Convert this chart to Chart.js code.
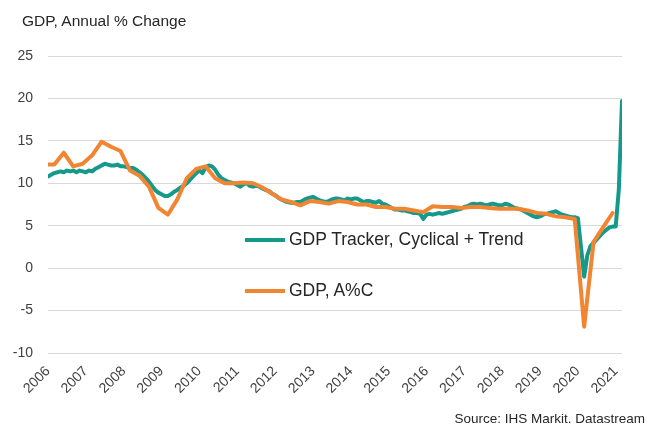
<!DOCTYPE html>
<html>
<head>
<meta charset="utf-8">
<script src="https://cdn.jsdelivr.net/npm/chart.js@4"></script>
<style>
  body { margin: 0; background: #fff; font-family: "Liberation Sans", Arial, sans-serif; }
  #wrap { position: relative; width: 660px; height: 425px; }
  #title { position: absolute; left: 22px; top: 12px; font-size: 15.5px; color: #262626; }
  #source { position: absolute; right: 15px; top: 411px; font-size: 13.5px; color: #262626; }
  .leg { position: absolute; left: 245px; font-size: 17.5px; color: #262626; display: flex; align-items: center; }
  .leg span.line { display: inline-block; width: 40px; height: 4px; margin-right: 4px; }
</style>
</head>
<body>
<div id="wrap">
  <canvas id="myChart"></canvas>
  <div id="title">GDP, Annual % Change</div>
  <div class="leg" style="top:229px"><span class="line" style="background:#14998b"></span>GDP Tracker, Cyclical + Trend</div>
  <div class="leg" style="top:280px"><span class="line" style="background:#f28532"></span>GDP, A%C</div>
  <div id="source">Source: IHS Markit. Datastream</div>
</div>
<script>
// Eje y
const yTicks = [-10, -5, 0, 5, 10, 15, 20, 25];
const firstYear = 2006;

// GDP Tracker, mensual desde ene-2006 hasta mar-2021
const trackerValues = [
  10.8, 11.0, 11.2, 11.3, 11.4, 11.3, 11.5, 11.4, 11.5, 11.3, 11.5, 11.4, // 2006
  11.3, 11.5, 11.4, 11.7, 11.9, 12.1, 12.3, 12.2, 12.1, 12.1, 12.2, 12.0, // 2007
  12.0, 11.9, 11.8, 11.8, 11.6, 11.3, 11.0, 10.6, 10.2, 9.7, 9.2, 8.9,    // 2008
  8.7, 8.5, 8.5, 8.7, 9.0, 9.2, 9.5, 9.7, 10.0, 10.4, 10.8, 11.2,         // 2009
  11.5, 11.2, 11.9, 12.1, 12.0, 11.6, 11.0, 10.6, 10.4, 10.2, 10.1, 10.0, // 2010
  9.8, 9.6, 9.9, 10.0, 9.7, 9.6, 9.7, 9.6, 9.4, 9.2, 9.1, 8.8,           // 2011
  8.6, 8.3, 8.1, 7.9, 7.8, 7.7, 7.7, 7.8, 7.8, 8.0, 8.2, 8.3,            // 2012
  8.4, 8.2, 8.0, 7.9, 7.8, 7.9, 8.1, 8.2, 8.2, 8.1, 8.0, 8.2,            // 2013
  8.1, 8.2, 8.2, 8.0, 7.8, 7.9, 7.9, 7.8, 7.7, 7.9, 7.6, 7.5,            // 2014
  7.3, 7.1, 6.9, 6.9, 6.8, 6.8, 6.7, 6.6, 6.5, 6.5, 6.4, 5.8,            // 2015
  6.3, 6.4, 6.3, 6.4, 6.5, 6.4, 6.5, 6.6, 6.7, 6.8, 6.9, 7.0,            // 2016
  7.2, 7.3, 7.5, 7.6, 7.5, 7.6, 7.5, 7.4, 7.5, 7.6, 7.5, 7.4,            // 2017
  7.4, 7.6, 7.5, 7.3, 7.1, 7.0, 6.9, 6.7, 6.5, 6.3, 6.1, 6.0,            // 2018
  6.1, 6.3, 6.4, 6.5, 6.6, 6.7, 6.5, 6.3, 6.2, 6.1, 6.0, 6.0,            // 2019
  5.9, 2.5, -1.0, 1.5, 2.6, 3.0, 3.4, 3.8, 4.2, 4.5, 4.8, 4.9,           // 2020
  4.9, 9.3, 19.7                                                          // 2021
];

// GDP A%C, trimestral (fin de trimestre)
const gdpDates = ["2006-01"];
for (let y = 2006; y <= 2020; y++) {
  ["03", "06", "09", "12"].forEach((m) => gdpDates.push(`${y}-${m}`));
}
const gdpValues = [
  12.2,
  12.2, 13.6, 12.0, 12.3,   // 2006
  13.3, 14.9, 14.3, 13.8,   // 2007
  11.5, 10.9, 9.6, 7.1,     // 2008
  6.3, 8.1, 10.6, 11.7,     // 2009
  12.0, 10.6, 10.0, 10.0,   // 2010
  10.1, 10.0, 9.5, 8.8,     // 2011
  8.1, 7.8, 7.4, 7.9,       // 2012
  7.8, 7.6, 7.9, 7.8,       // 2013
  7.5, 7.5, 7.2, 7.2,       // 2014
  7.0, 7.0, 6.8, 6.6,       // 2015
  7.3, 7.2, 7.2, 7.1,       // 2016
  7.2, 7.2, 7.1, 7.0,       // 2017
  7.0, 7.0, 6.8, 6.5,       // 2018
  6.4, 6.1, 6.0, 5.8,       // 2019
  -6.9, 3.1, 4.8, 6.5       // 2020
];

const monthIndex = (d) => {
  const [y, m] = d.split("-").map(Number);
  return (y - firstYear) * 12 + m - 1;
};

const trackerPoints = trackerValues.map((v, i) => ({ x: i, y: v }));
const gdpPoints = gdpValues.map((v, i) => ({ x: monthIndex(gdpDates[i]), y: v }));

const tickFont = { family: "'Liberation Sans', Arial, sans-serif", size: 14 };

const config = {
  type: "line",
  data: {
    datasets: [
      {
        label: "GDP, A%C",
        data: gdpPoints,
        borderColor: "#f28532",
        borderWidth: 4,
        pointRadius: 0,
        borderJoinStyle: "round",
        borderCapStyle: "round",
        tension: 0,
      },
      {
        label: "GDP Tracker, Cyclical + Trend",
        data: trackerPoints,
        borderColor: "#14998b",
        borderWidth: 4,
        pointRadius: 0,
        borderJoinStyle: "round",
        borderCapStyle: "round",
        tension: 0,
      },
    ],
  },
  options: {
    responsive: true,
    maintainAspectRatio: false,
    animation: false,
    layout: { padding: { left: 0, right: 38, top: 56, bottom: 0 } },
    plugins: { legend: { display: false }, tooltip: { enabled: false } },
    scales: {
      x: {
        type: "linear",
        min: 0,
        max: trackerValues.length - 1,
        grid: { display: false, drawTicks: false },
        border: { display: false },
        afterFit: (scale) => { scale.height = 72; },
        ticks: {
          stepSize: 12,
          includeBounds: false,
          autoSkip: false,
          minRotation: 45,
          maxRotation: 45,
          padding: 10,
          color: "#404040",
          font: tickFont,
          callback: (v) => (v % 12 === 0 ? String(firstYear + v / 12) : ""),
        },
      },
      y: {
        min: yTicks[0],
        max: yTicks[yTicks.length - 1],
        afterFit: (scale) => { scale.width = 48; },
        afterBuildTicks: (scale) => { scale.ticks = yTicks.map((v) => ({ value: v })); },
        grid: { color: "#d9d9d9", lineWidth: 1, drawTicks: false },
        border: { display: false },
        ticks: { padding: 15, color: "#404040", font: tickFont },
      },
    },
  },
};

const myChart = document.querySelector("#myChart");
new Chart(myChart, config);
</script>
</body>
</html>
